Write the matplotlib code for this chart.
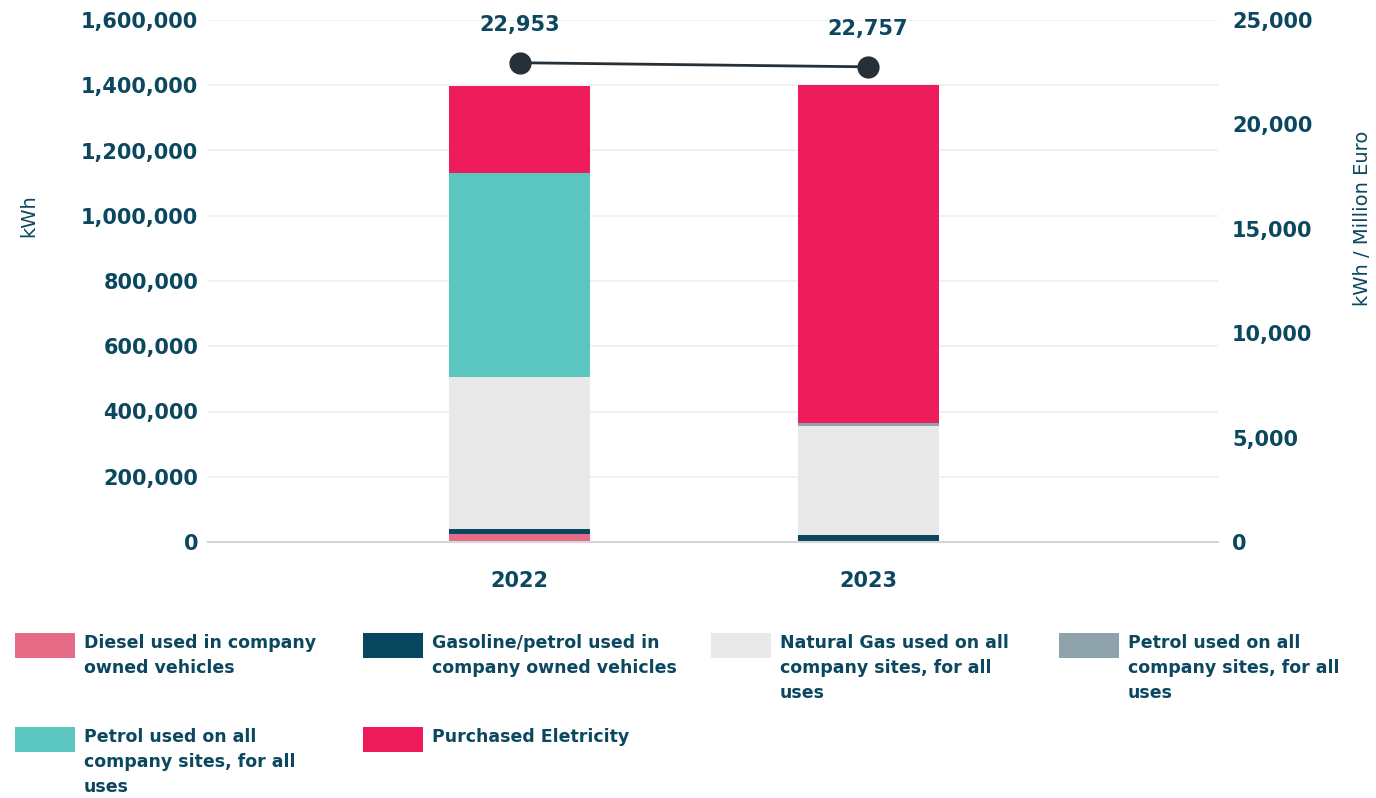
import textwrap
import matplotlib
matplotlib.use("Agg")
import matplotlib.pyplot as plt
from matplotlib.patches import Rectangle
from matplotlib.ticker import FuncFormatter, MultipleLocator

# ---- data -------------------------------------------------------------
years = ["2022", "2023"]
series_names = [
    "Diesel used in company owned vehicles",
    "Gasoline/petrol used in company owned vehicles",
    "Natural Gas used on all company sites, for all uses",
    "Petrol used on all company sites, for all uses",
    "Petrol used on all company sites, for all uses",
    "Purchased Eletricity",
]
# stacking order: diesel, gasoline, natural gas, petrol (grey), petrol (teal), electricity
diesel = [24500, 0]
gasoline = [15300, 21500]
natural_gas = [466800, 335000]
petrol_grey = [0, 9200]
petrol_teal = [625300, 0]
electricity = [265700, 1035000]
intensity = [22953, 22757]  # kWh / Million Euro

series_values = [diesel, gasoline, natural_gas, petrol_grey, petrol_teal, electricity]
series_colors = ["#e56b87", "#08475e", "#e8e9e8", "#8fa3ac", "#5bc5bf", "#ee1c5b"]
# legend reading order (row by row)
legend_order = [0, 1, 2, 3, 4, 5]

TEXT = "#0b4860"
FONT = "DejaVu Sans"

plt.rcParams["font.family"] = [FONT]

fig = plt.figure(figsize=(13.76, 7.98), dpi=100)
ax = fig.add_axes([208 / 1376, 1 - 542 / 798, 1010 / 1376, 522 / 798])

x = list(range(len(years)))
bottom = [0.0] * len(years)
for vals, col in zip(series_values, series_colors):
    ax.bar(x, vals, width=0.405, bottom=bottom, color=col, linewidth=0, zorder=2)
    bottom = [b + v for b, v in zip(bottom, vals)]

ax.set_xlim(-0.894, 2.004)
ax.set_ylim(0, 1600000)
ax.yaxis.set_major_locator(MultipleLocator(200000))
ax.yaxis.set_major_formatter(FuncFormatter(lambda v, p: f"{v:,.0f}"))
ax.set_xticks(x)
ax.set_xticklabels(years)

for s in ["top", "right", "left"]:
    ax.spines[s].set_visible(False)
ax.spines["bottom"].set_color("#d6d6d6")
ax.spines["bottom"].set_linewidth(1.5)
ax.grid(axis="y", color="#efefef", linewidth=1.2, zorder=0)
ax.set_axisbelow(True)

ax.tick_params(axis="y", length=0, pad=7, labelsize=15, labelcolor=TEXT)
ax.tick_params(axis="x", length=0, pad=21, labelsize=15, labelcolor=TEXT)
for lab in ax.get_yticklabels() + ax.get_xticklabels():
    lab.set_fontweight("bold")

ax.set_ylabel("kWh", color=TEXT, fontsize=14, fontweight="normal")
ax.yaxis.set_label_coords(-0.168, 0.625)

# secondary axis: energy intensity line
ax2 = ax.twinx()
ax2.set_ylim(0, 25000)
ax2.yaxis.set_major_locator(MultipleLocator(5000))
ax2.yaxis.set_major_formatter(FuncFormatter(lambda v, p: f"{v:,.0f}"))
for s in ["top", "right", "left", "bottom"]:
    ax2.spines[s].set_visible(False)
ax2.tick_params(axis="y", length=0, pad=10, labelsize=15, labelcolor=TEXT)
for lab in ax2.get_yticklabels():
    lab.set_fontweight("bold")
ax2.set_ylabel("kWh / Million Euro", color=TEXT, fontsize=14, fontweight="normal")
ax2.yaxis.set_label_coords(1.1337, 0.62)

ax2.plot(x, intensity, color="#263038", linewidth=2, marker="o",
         markersize=15, zorder=5)
for xi, v in zip(x, intensity):
    ax2.annotate(f"{v:,.0f}", (xi, v), xytext=(0, 20), textcoords="offset points",
                 ha="center", va="bottom", fontsize=15, fontweight="bold", color=TEXT)

# ---- legend -----------------------------------------------------------
col_x = [15, 363, 711, 1059]
row_y = [633, 727]
for k, idx in enumerate(legend_order):
    cx = col_x[k % 4]
    ry = row_y[k // 4]
    fig.add_artist(Rectangle((cx / 1376, 1 - (ry + 25) / 798), 60 / 1376, 25 / 798,
                             transform=fig.transFigure, color=series_colors[idx], lw=0))
    fig.text((cx + 69) / 1376, 1 - (ry + 1) / 798, textwrap.fill(series_names[idx], 24),
             ha="left", va="top", fontsize=12.5, fontweight="bold", color=TEXT,
             linespacing=1.5)

fig.savefig("out.png", dpi=100)
